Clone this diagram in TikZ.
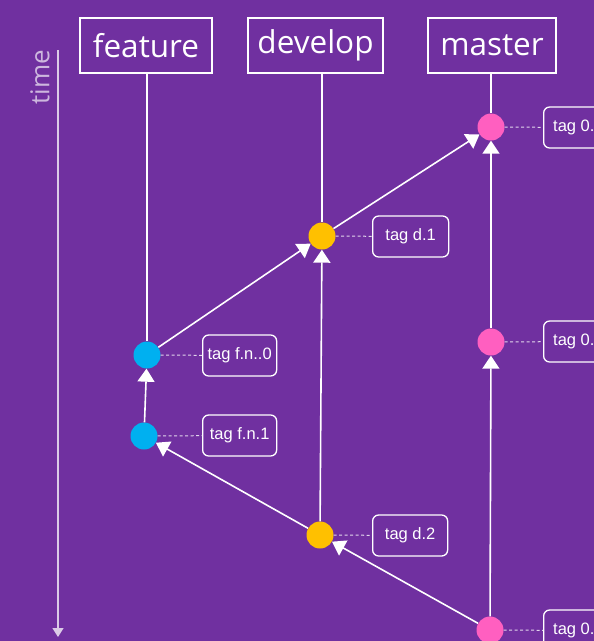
\documentclass[tikz,border=0pt]{standalone}
\usepackage{fontspec}
\setmainfont{Open Sans}
\newfontfamily\tagfont{Liberation Sans}
\usetikzlibrary{arrows.meta}
\definecolor{bgpurple}{HTML}{7030A0}
\definecolor{cpink}{HTML}{FF5FC0}
\definecolor{corange}{HTML}{FFC000}
\definecolor{cblue}{HTML}{00B0F0}
\tikzset{
  header/.style={draw=white, line width=1.5pt, text=white, minimum width=#1, minimum height=55pt, font=\fontsize{31.5}{33}\selectfont, inner sep=0pt},
  branch/.style={draw=white, line width=1.6pt},
  arr/.style={draw=white, line width=1.6pt, -{Triangle[width=17pt,length=13pt]}},
  commit/.style={circle, fill=#1, minimum size=27pt, inner sep=0pt},
  tagbox/.style={draw=white, line width=1.3pt, rounded corners=6pt, text=white, minimum width=75pt, minimum height=41pt, inner sep=0pt, font=\tagfont\fontsize{16.5}{18}\selectfont, anchor=west},
  tagcut/.style={tagbox, minimum width=80pt},
  tagtext/.style={text=white, inner sep=0pt, font=\tagfont\fontsize{16.5}{18}\selectfont, anchor=west},
  dashline/.style={draw=white!80!bgpurple, line width=1pt, dash pattern=on 3pt off 2.5pt},
}
\begin{document}
\begin{tikzpicture}[x=1pt,y=-1pt]
\useasboundingbox (0,0) rectangle (594,641);
\fill[bgpurple] (0,0) rectangle (594,641);
\clip (0,0) rectangle (594,641);
% time axis
\coordinate (tstart) at (58,50);
\coordinate (tend) at (58,637);
\draw[white!75!bgpurple, line width=1.4pt, -{Triangle[width=11pt,length=9pt]}] (tstart) -- (tend);
\node[rotate=90, text=white!65!bgpurple, font=\fontsize{26}{28}\selectfont] (time) at (40,77) {time};
% headers
\node[header=132pt] (feature) at (146,45.5) {\raisebox{-2pt}{feature}};
\node[header=135pt] (develop) at (315.5,45.5) {\raisebox{-2pt}{develop}};
\node[header=128pt] (master) at (492,45.5) {\raisebox{-2pt}{master}};
% commits
\node[commit=cpink] (m1) at (491,127) {};
\node[commit=corange] (d1) at (322,236) {};
\node[commit=cblue] (f0) at (147,355) {};
\node[commit=cpink] (m2) at (491,342) {};
\node[commit=cblue] (f1) at (144,436) {};
\node[commit=corange] (d2) at (320,535) {};
\node[commit=cpink] (m3) at (490,630) {};
% branch lines
\coordinate (fs) at (147,73);
\coordinate (ds) at (322,73);
\coordinate (ms) at (491,73);
\draw[branch] (fs) -- (f0);
\draw[branch] (ds) -- (d1);
\draw[branch] (ms) -- (m1);
% arrows
\draw[arr] (f1) -- (f0);
\draw[arr] (d2) -- (d1);
\draw[arr] (m2) -- (m1);
\draw[arr] (m3) -- (m2);
\draw[arr] (d2) -- (f1);
\draw[arr] (m3) -- (d2);
\draw[arr] (f0) -- (d1);
\draw[arr] (d1) -- (m1);
% tags
\node[tagbox, minimum width=76pt] (td1) at (372,236.5) {tag d.1};
\node[tagbox, minimum width=75pt] (td2) at (372,535.5) {tag d.2};
\node[tagbox, minimum width=74pt] (tf0) at (202,355.5) {tag f.n..0};
\node[tagbox, minimum width=74pt] (tf1) at (202,435.5) {tag f.n.1};
\node[tagcut] (tm1) at (543,127.5) {};
\node[tagcut] (tm2) at (543,341.5) {};
\node[tagcut] (tm3) at (543,630.5) {};
\node[tagtext] (tm1t) at (553,127.5) {tag 0.};
\node[tagtext] (tm2t) at (553,341.5) {tag 0.};
\node[tagtext] (tm3t) at (553,630.5) {tag 0.};
% dashed connectors
\draw[dashline] (d1) -- (td1);
\draw[dashline] (d2) -- (td2);
\draw[dashline] (f0) -- (tf0);
\draw[dashline] (f1) -- (tf1);
\draw[dashline] (m1) -- (tm1);
\draw[dashline] (m2) -- (tm2);
\draw[dashline] (m3) -- (tm3);
\end{tikzpicture}
\end{document}
